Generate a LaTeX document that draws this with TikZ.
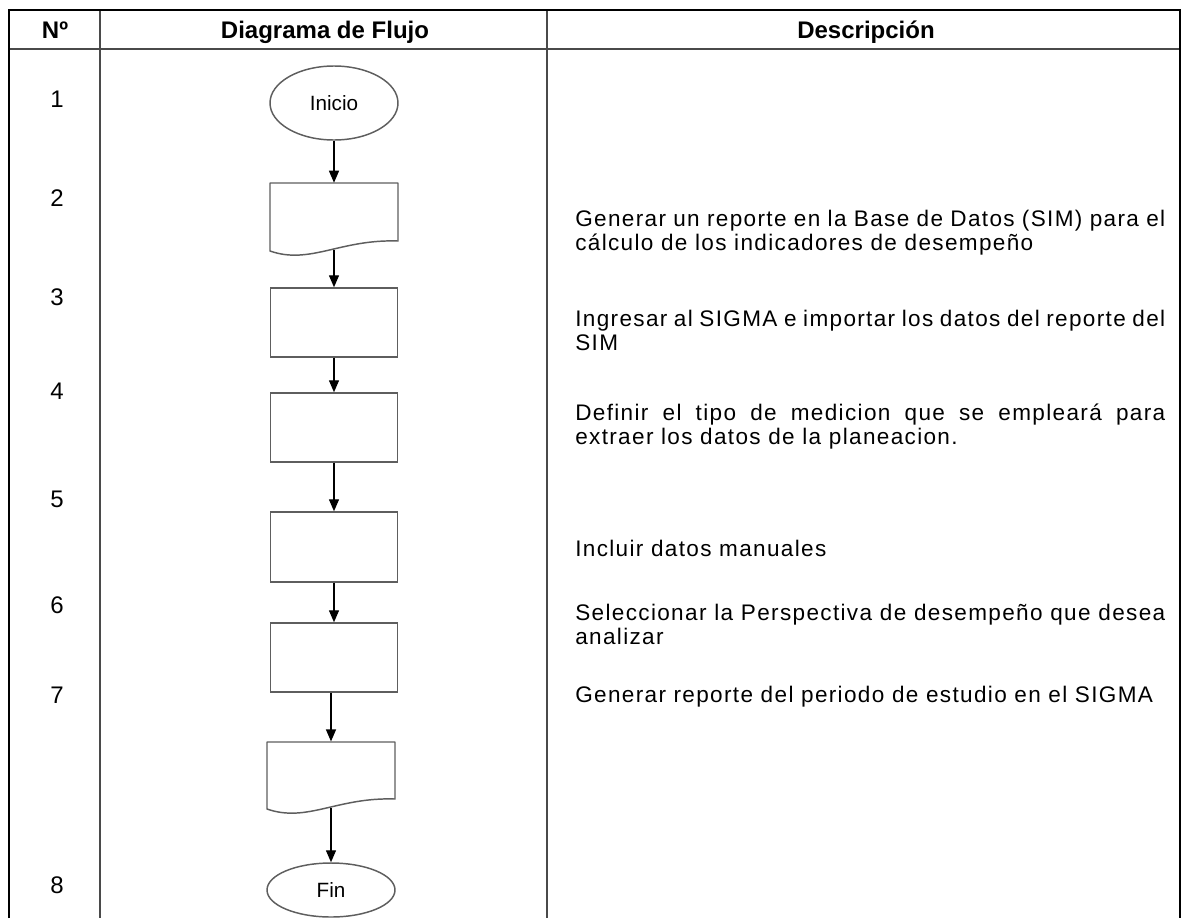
\documentclass[tikz,border=0pt]{standalone}
\usepackage{fontspec}
\setmainfont{Liberation Sans}
\newfontfamily\descfont[LetterSpace=6]{Liberation Sans}
\usetikzlibrary{shapes.geometric,arrows.meta}

\definecolor{rulegray}{HTML}{4A4A4A}
\definecolor{outline}{HTML}{5E5E5E}

% a description line spread to the full column width
\newcommand{\fullline}[1]{\makebox[442.5pt][s]{#1}}

\tikzset{
  frameline/.style={line width=1.9pt, black},
  gridline/.style={line width=1.5pt, rulegray},
  headtext/.style={font=\fontsize{18}{20}\selectfont\bfseries, inner sep=0, anchor=base},
  numtext/.style={font=\fontsize{18}{20}\selectfont, inner sep=0, anchor=base},
  desctext/.style={font=\descfont\fontsize{16.9}{20}\selectfont, inner sep=0, anchor=base west},
  terminal/.style={ellipse, draw=outline, line width=1.1pt, inner sep=0,
    minimum width=96pt, font=\fontsize{15.5}{17}\selectfont},
  procbox/.style={rectangle, draw=outline, line width=1.1pt, inner sep=0,
    minimum width=95.25pt, minimum height=51.75pt},
  docarea/.style={rectangle, inner sep=0, minimum width=96pt},
  docline/.style={draw=outline, line width=1.1pt, line join=round},
  flow/.style={line width=1pt, -{Triangle[length=9pt,width=7.5pt]}},
}

\begin{document}
\begin{tikzpicture}[x=0.75pt, y=-0.75pt]
\useasboundingbox (0,0) rectangle (1182,918);
\fill[white] (0,0) rectangle (1182,918);

% table frame
\draw[gridline] (9,49) -- (1180,49);
\draw[gridline] (100,10) -- (100,918);
\draw[gridline] (547,10) -- (547,918);
\draw[frameline] (9,918) -- (9,10) -- (1180,10) -- (1180,918);

% headings
\node[headtext] (hnum)  at (55,38)  {Nº};
\node[headtext] (hflow) at (325,38) {Diagrama de Flujo};
\node[headtext] (hdesc) at (866,38) {Descripción};

% step numbers
\node[numtext] (n1) at (57,107) {1};
\node[numtext] (n2) at (57,206) {2};
\node[numtext] (n3) at (57,305) {3};
\node[numtext] (n4) at (57,399) {4};
\node[numtext] (n5) at (57,507) {5};
\node[numtext] (n6) at (57,613) {6};
\node[numtext] (n7) at (57,703) {7};
\node[numtext] (n8) at (57,893) {8};

% flow chart
\node[terminal, minimum height=55.5pt] (ini) at (334,103) {Inicio};

\node[docarea, minimum height=51pt] (d2) at (334,217) {};
\draw[docline] (270,183) -- (398,183) -- (398,241)
  .. controls (340,239) and (310,265) .. (270,251) -- cycle;
\coordinate (d2out) at (334,250);

\node[procbox] (b3) at (334,322.5) {};
\node[procbox] (b4) at (334,427.5) {};
\node[procbox, minimum height=52.5pt] (b5) at (334,547) {};
\node[procbox] (b6) at (334,657.5) {};

\node[docarea, minimum height=50pt] (d7) at (331,775) {};
\draw[docline] (267,742) -- (395,742) -- (395,799)
  .. controls (337,797) and (307,823) .. (267,809) -- cycle;
\coordinate (d7out) at (331,808);

\node[terminal, minimum height=40.5pt] (fin) at (331,890) {Fin};

\draw[flow] (ini.south) -- (ini |- d2.north);
\draw[flow] (d2out) -- (d2out |- b3.north);
\draw[flow] (b3.south) -- (b4.north);
\draw[flow] (b4.south) -- (b5.north);
\draw[flow] (b5.south) -- (b6.north);
\draw[flow] (b6.south -| d7.north) -- (d7.north);
\draw[flow] (d7out) -- (fin.north);

% descriptions
\node[desctext] (t2a) at (575,226) {\fullline{Generar un reporte en la Base de Datos (SIM) para el}};
\node[desctext] (t2b) at (575,250) {cálculo de los indicadores de desempeño};
\node[desctext] (t3a) at (575,326) {\fullline{Ingresar al SIGMA e importar los datos del reporte del}};
\node[desctext] (t3b) at (575,350) {SIM};
\node[desctext] (t4a) at (575,420) {\fullline{Definir el tipo de medicion que se empleará para}};
\node[desctext] (t4b) at (575,444) {extraer los datos de la planeacion.};
\node[desctext] (t5a) at (575,556) {Incluir datos manuales};
\node[desctext] (t6a) at (575,620) {\fullline{Seleccionar la Perspectiva de desempeño que desea}};
\node[desctext] (t6b) at (575,644) {analizar};
\node[desctext] (t7a) at (575,702) {Generar reporte del periodo de estudio en el SIGMA};
\end{tikzpicture}
\end{document}
